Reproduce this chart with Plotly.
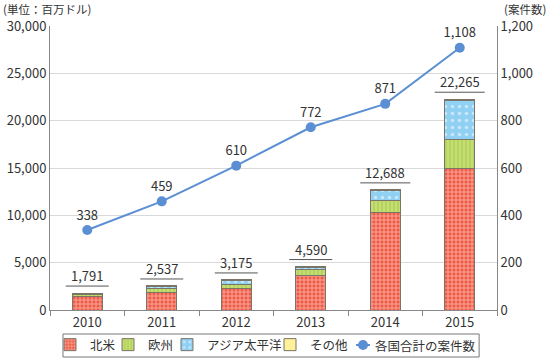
import plotly.graph_objects as go

years = ["2010", "2011", "2012", "2013", "2014", "2015"]
na = [1470, 1850, 2250, 3650, 10250, 14900]
eu = [180, 420, 400, 620, 1300, 3100]
ap = [60, 170, 420, 220, 1040, 4150]
other = [81, 97, 105, 100, 98, 115]
totals = [1791, 2537, 3175, 4590, 12688, 22265]
total_labels = ["1,791", "2,537", "3,175", "4,590", "12,688", "22,265"]
cases = [338, 459, 610, 772, 871, 1108]
case_labels = ["338", "459", "610", "772", "871", "1,108"]
line_name = "各国合計の案件数"

FONT = "Noto Sans CJK JP, Noto Sans, sans-serif"
TXT = "#333333"
LINE_C = "#5b8fd3"
edge = dict(color="#7b7468", width=1)

TOP, BOT = 26, 50
PH = 360 - TOP - BOT  # plot height in px


def py(px):
    """pixel row -> paper y"""
    return (360 - BOT - px) / PH


# legend anchor positions (paper x) for each bar item
leg_x = [0.0, 0.1298, 0.2617, 0.4922]
LEG_Y = py(345)

fig = go.Figure()
fig.add_trace(go.Bar(
    x=years, y=na, name="北米", legend="legend",
    marker=dict(color="#ef5a45", line=edge,
                pattern=dict(shape="+", fgcolor="#ffffff", bgcolor="#ef5a45", size=4, solidity=0.4)),
))
fig.add_trace(go.Bar(
    x=years, y=eu, name="欧州", legend="legend2",
    marker=dict(color="#b5d45a", line=edge,
                pattern=dict(shape="|", fgcolor="#e8f2c0", bgcolor="#b5d45a", size=4, solidity=0.3)),
))
fig.add_trace(go.Bar(
    x=years, y=ap, name="アジア太平洋", legend="legend3",
    marker=dict(color="#8fd0f3", line=edge,
                pattern=dict(shape=".", fgcolor="#ffffff", bgcolor="#8fd0f3", size=7, solidity=0.2)),
))
fig.add_trace(go.Bar(
    x=years, y=other, name="その他", legend="legend4",
    marker=dict(color="#fff09a", line=edge),
))
fig.add_trace(go.Scatter(
    x=years, y=cases, name=line_name, yaxis="y2", showlegend=False,
    mode="lines+markers+text", text=case_labels, textposition="top center",
    textfont=dict(size=13, color=TXT, family=FONT),
    line=dict(color=LINE_C, width=2),
    marker=dict(color=LINE_C, size=10),
))

for i, (tot, lab) in enumerate(zip(totals, total_labels)):
    w = len(lab) * 7 + 8
    fig.add_shape(type="line", xref="x", yref="y",
                  xsizemode="pixel", xanchor=i, x0=-w / 2, x1=w / 2,
                  ysizemode="pixel", yanchor=tot, y0=7, y1=7,
                  line=dict(color="#555555", width=1))
    fig.add_annotation(x=i, y=tot, text=lab, showarrow=False,
                       yanchor="bottom", yshift=6,
                       font=dict(size=13, color=TXT, family=FONT))

fig.add_annotation(xref="paper", yref="paper", x=-0.108, y=py(0), xanchor="left", yanchor="top",
                   text="(単位：百万ドル)", showarrow=False, borderpad=0,
                   font=dict(size=11.5, color=TXT, family=FONT))
fig.add_annotation(xref="paper", yref="paper", x=1.112, y=py(0), xanchor="right", yanchor="top",
                   text="(案件数)", showarrow=False, borderpad=0,
                   font=dict(size=11.5, color=TXT, family=FONT))

# legend frame
fig.add_shape(type="rect", xref="paper", yref="paper", x0=0.029, x1=0.96, y0=py(357), y1=py(334),
              line=dict(color="#777777", width=1), fillcolor="rgba(0,0,0,0)", layer="above")

# legend entry for the line series (line + marker + label)
lx0, lx1 = 0.6846, 0.7159
fig.add_shape(type="line", xref="paper", yref="paper", x0=lx0, x1=lx1, y0=LEG_Y, y1=LEG_Y,
              line=dict(color=LINE_C, width=2))
fig.add_shape(type="circle", xref="paper", yref="paper",
              xsizemode="pixel", xanchor=(lx0 + lx1) / 2, x0=-5, x1=5,
              ysizemode="pixel", yanchor=LEG_Y, y0=-5, y1=5,
              fillcolor=LINE_C, line=dict(color=LINE_C, width=0))
fig.add_annotation(xref="paper", yref="paper", x=lx1 + 0.006, y=LEG_Y, xanchor="left", yanchor="middle",
                   text=line_name, showarrow=False, font=dict(size=12.5, color=TXT, family=FONT))

legend_common = dict(orientation="h", xanchor="left", yanchor="middle", y=LEG_Y,
                     bgcolor="rgba(0,0,0,0)", borderwidth=0,
                     font=dict(size=12.5, color=TXT, family=FONT), itemwidth=30)

fig.update_layout(
    width=547, height=360,
    margin=dict(l=50, r=50, t=TOP, b=BOT, autoexpand=False),
    paper_bgcolor="white", plot_bgcolor="white",
    barmode="stack", bargap=0.6,
    font=dict(family=FONT, size=13, color=TXT),
    showlegend=True,
    legend=dict(x=leg_x[0], **legend_common),
    legend2=dict(x=leg_x[1], **legend_common),
    legend3=dict(x=leg_x[2], **legend_common),
    legend4=dict(x=leg_x[3], **legend_common),
    xaxis=dict(type="category", range=[-0.5, 5.5], showline=True, linecolor="#888888", linewidth=1,
               ticks="outside", tickson="boundaries", ticklen=5, tickcolor="#888888",
               tickfont=dict(size=13, color=TXT)),
    yaxis=dict(range=[0, 30000], dtick=5000, tickformat=",", showline=True,
               linecolor="#888888", linewidth=1, gridcolor="#d9d9d9", zeroline=False,
               tickfont=dict(size=13, color=TXT)),
    yaxis2=dict(range=[0, 1200], dtick=200, tickformat=",", overlaying="y", side="right",
                showline=True, linecolor="#888888", linewidth=1, showgrid=False, zeroline=False,
                tickfont=dict(size=13, color=TXT)),
)

fig.write_html(
    "out.html",
    config={"displayModeBar": False},
    post_script="document.body.style.margin='0';document.body.style.overflow='hidden';",
)
